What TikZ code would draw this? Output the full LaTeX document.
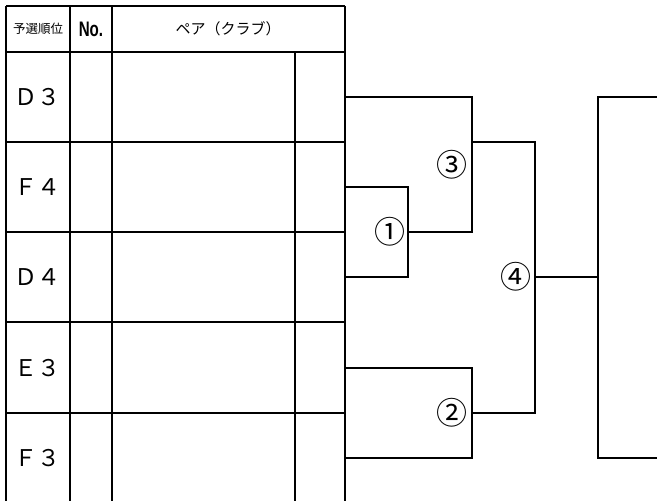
\documentclass[tikz,border=0pt]{standalone}
\usepackage{fontspec}
\setmainfont{Liberation Sans}
\newfontfamily\jp{Noto Sans CJK JP}
\begin{document}
\begin{tikzpicture}
[
  x=1pt, y=-1pt,
  grid/.style={line width=1.6pt},
  brk/.style={line width=1.3pt},
  seed/.style={font=\jp\fontsize{23}{23}\selectfont},
  head/.style={font=\jp\fontsize{15}{15}\selectfont},
  num/.style={font=\jp\fontsize{31}{31}\selectfont, inner sep=0pt}
]
\useasboundingbox (0,0) rectangle (657,501);

% table
\draw[grid] (6,6) -- (345,6);
\draw[grid] (6,6) -- (6,501);
\draw[grid] (70,6) -- (70,501);
\draw[grid] (112,6) -- (112,501);
\draw[grid] (295,52) -- (295,501);
\draw[grid] (345,6) -- (345,501);
\foreach \y in {52,142,232,322,413}
  \draw[grid] (6,\y) -- (345,\y);

\node[font=\jp\fontsize{12.5}{12.5}\selectfont] (rank) at (38,29) {予選順位};
\node[font=\bfseries\fontsize{21}{21}\selectfont] (no) at (91,29) {\scalebox{0.72}[1]{No.}};
\node[head] (pair) at (228,29) {ペア（クラブ）};

% seeds
\foreach \t/\y [count=\i] in {Ｄ３/97,Ｆ４/187,Ｄ４/277,Ｅ３/368,Ｆ３/458}
{
  \node[seed] (s\i) at (38,\y) {\t};
  \coordinate (e\i) at (345,\y);
}

% brackets
\coordinate (r1) at (408,232);
\coordinate (r2) at (472,413);
\coordinate (r3) at (472,142);
\coordinate (r4) at (535,277);
\coordinate (w) at (598,277);
\coordinate (t1) at (657,97);
\coordinate (t2) at (657,458);

\draw[brk] (e2) -| (r1) |- (e3);
\draw[brk] (e4) -| (r2) |- (e5);
\draw[brk] (e1) -| (r3) |- (r1);
\draw[brk] (r3) -| (r4) |- (r2);
\draw[brk] (r4) -- (w);
\draw[brk] (t1) -| (w) |- (t2);

\node[num,left=2pt] (m1) at (r1) {①};
\node[num,left=4pt] (m2) at (r2) {②};
\node[num,left=4pt] (m3) at (472,165) {③};
\node[num,left=3pt] (m4) at (r4) {④};

\end{tikzpicture}
\end{document}
